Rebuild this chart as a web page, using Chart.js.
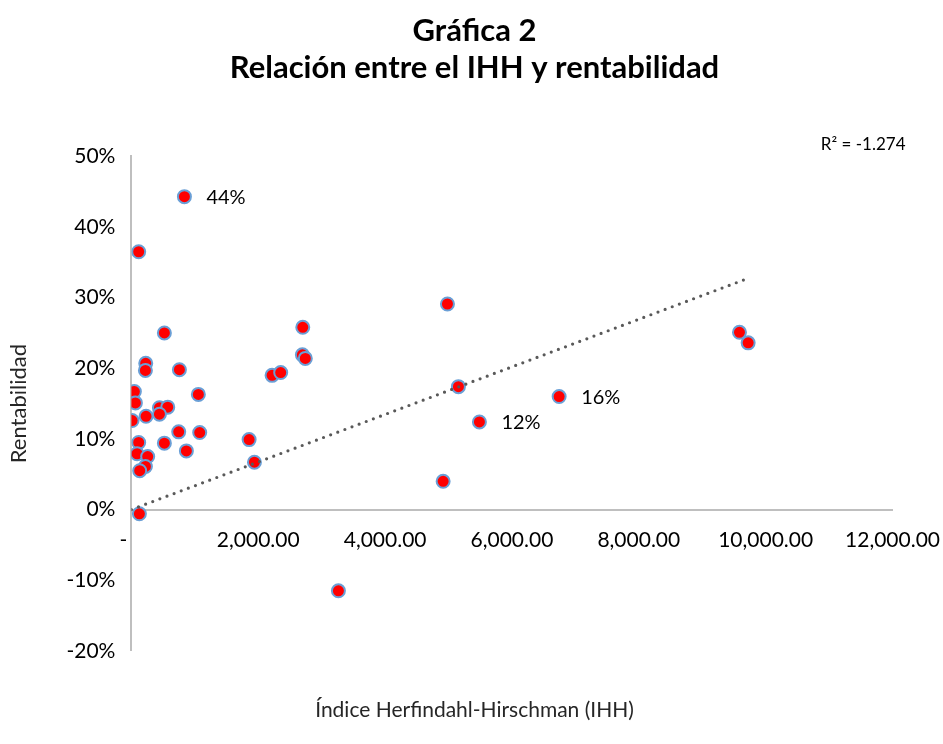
<!DOCTYPE html>
<html>
<head>
<meta charset="utf-8">
<script src="https://cdn.jsdelivr.net/npm/chart.js@4"></script>
<style>
  body { margin: 0; background: #fff; }
  #wrap { width: 943px; height: 744px; }
</style>
</head>
<body>
<div id="wrap"><canvas id="chart"></canvas></div>
<script>
// IHH (x) and rentabilidad in % (y)
var ihh = [836, 115, 520, 2702, 2696, 2742, 226, 221, 757, 2218, 2354, 47, 1056, 63, 442, 573, 442, 231, 11, 746,
           1077, 1856, 115, 520, 867, 90, 257, 221, 131, 1940, 126, 4983, 5156, 6744, 5487, 4915, 9587, 9724, 3264];
var rent = [44.3, 36.5, 25.0, 25.8, 21.9, 21.4, 20.7, 19.7, 19.8, 19.0, 19.4, 16.7, 16.3, 15.1, 14.4, 14.5, 13.5, 13.2, 12.6, 11.0,
            10.9, 9.9, 9.5, 9.4, 8.3, 7.9, 7.5, 6.1, 5.5, 6.7, -0.6, 29.1, 17.4, 16.0, 12.4, 4.0, 25.1, 23.6, -11.5];
// points that carry a value label
var labelled = [0, 33, 34];
var xTicks = [0, 2000, 4000, 6000, 8000, 10000, 12000];
var yTicks = [-20, -10, 0, 10, 20, 30, 40, 50];
var r2Text = 'R² = -1.274';

var font = 'Lato';

var points = ihh.map(function (x, i) { return { x: x, y: rent[i] }; });

// linear trend forced through the origin (least squares)
var sxy = 0, sxx = 0, maxX = 0;
for (var i = 0; i < ihh.length; i++) {
  sxy += ihh[i] * rent[i];
  sxx += ihh[i] * ihh[i];
  if (ihh[i] > maxX) maxX = ihh[i];
}
var slope = sxy / sxx;
var trend = [{ x: 0, y: 0 }, { x: maxX, y: slope * maxX }];

var extras = {
  id: 'extras',
  afterDatasetsDraw: function (chart) {
    var ctx = chart.ctx;
    var meta = chart.getDatasetMeta(1);
    ctx.save();
    ctx.fillStyle = '#000';
    ctx.font = '20px ' + font;
    ctx.textBaseline = 'middle';
    ctx.textAlign = 'left';
    labelled.forEach(function (i) {
      var el = meta.data[i];
      ctx.fillText(Math.round(rent[i]) + '%', el.x + 22, el.y + 1);
    });
    ctx.font = '17px ' + font;
    ctx.textAlign = 'right';
    var a = chart.chartArea;
    ctx.fillText(r2Text, a.right + 13, a.top - 12);
    ctx.restore();
  }
};

var ctx = document.getElementById('chart').getContext('2d');
var chart = new Chart(ctx, {
  type: 'scatter',
  data: {
    datasets: [{
      label: 'Tendencia',
      data: trend,
      showLine: true,
      borderColor: '#595959',
      borderWidth: 3.2,
      borderDash: [0, 7.6],
      borderCapStyle: 'round',
      pointRadius: 0
    }, {
      label: 'Rentabilidad',
      data: points,
      backgroundColor: '#FF0000',
      borderColor: '#6A9FD6',
      borderWidth: 2,
      pointRadius: 6.5
    }]
  },
  options: {
    responsive: true,
    maintainAspectRatio: false,
    animation: false,
    layout: { padding: { left: 6, right: 0, top: 8, bottom: 21 } },
    plugins: {
      legend: { display: false },
      tooltip: { enabled: false },
      title: {
        display: true,
        text: ['Gráfica 2', 'Relación entre el IHH y rentabilidad'],
        color: '#000',
        font: { family: font, size: 31, weight: 'bold', lineHeight: 1.2 },
        padding: { top: 4, bottom: 70 }
      },
      subtitle: {
        display: true,
        position: 'bottom',
        text: 'Índice Herfindahl-Hirschman (IHH)',
        color: '#262626',
        font: { family: font, size: 21 },
        padding: { top: 47, bottom: 0 }
      }
    },
    scales: {
      x: {
        type: 'linear',
        position: { y: 0 },
        min: 0,
        max: 12000,
        afterBuildTicks: function (s) { s.ticks = xTicks.map(function (v) { return { value: v }; }); },
        afterFit: function (s) { s.paddingRight = Math.max(0, s.paddingRight - 15); },
        ticks: {
          color: '#000',
          font: { family: font, size: 21 },
          padding: 18,
          maxRotation: 0,
          callback: function (v) {
            return v === 0 ? '-   ' : v.toLocaleString('en-US', { minimumFractionDigits: 2, maximumFractionDigits: 2 });
          }
        },
        grid: { display: false, drawTicks: false },
        border: { display: true, color: '#BFBFBF', width: 2 }
      },
      y: {
        min: -20,
        max: 50,
        afterBuildTicks: function (s) { s.ticks = yTicks.map(function (v) { return { value: v }; }); },
        ticks: {
          color: '#000',
          font: { family: font, size: 21 },
          padding: 16,
          callback: function (v) { return v + '%'; }
        },
        grid: { display: false, drawTicks: false },
        border: { display: true, color: '#BFBFBF', width: 2 },
        title: {
          display: true,
          text: 'Rentabilidad',
          color: '#262626',
          font: { family: font, size: 22 },
          padding: { top: 0, bottom: 18 }
        }
      }
    }
  },
  plugins: [extras]
});
</script>
</body>
</html>
